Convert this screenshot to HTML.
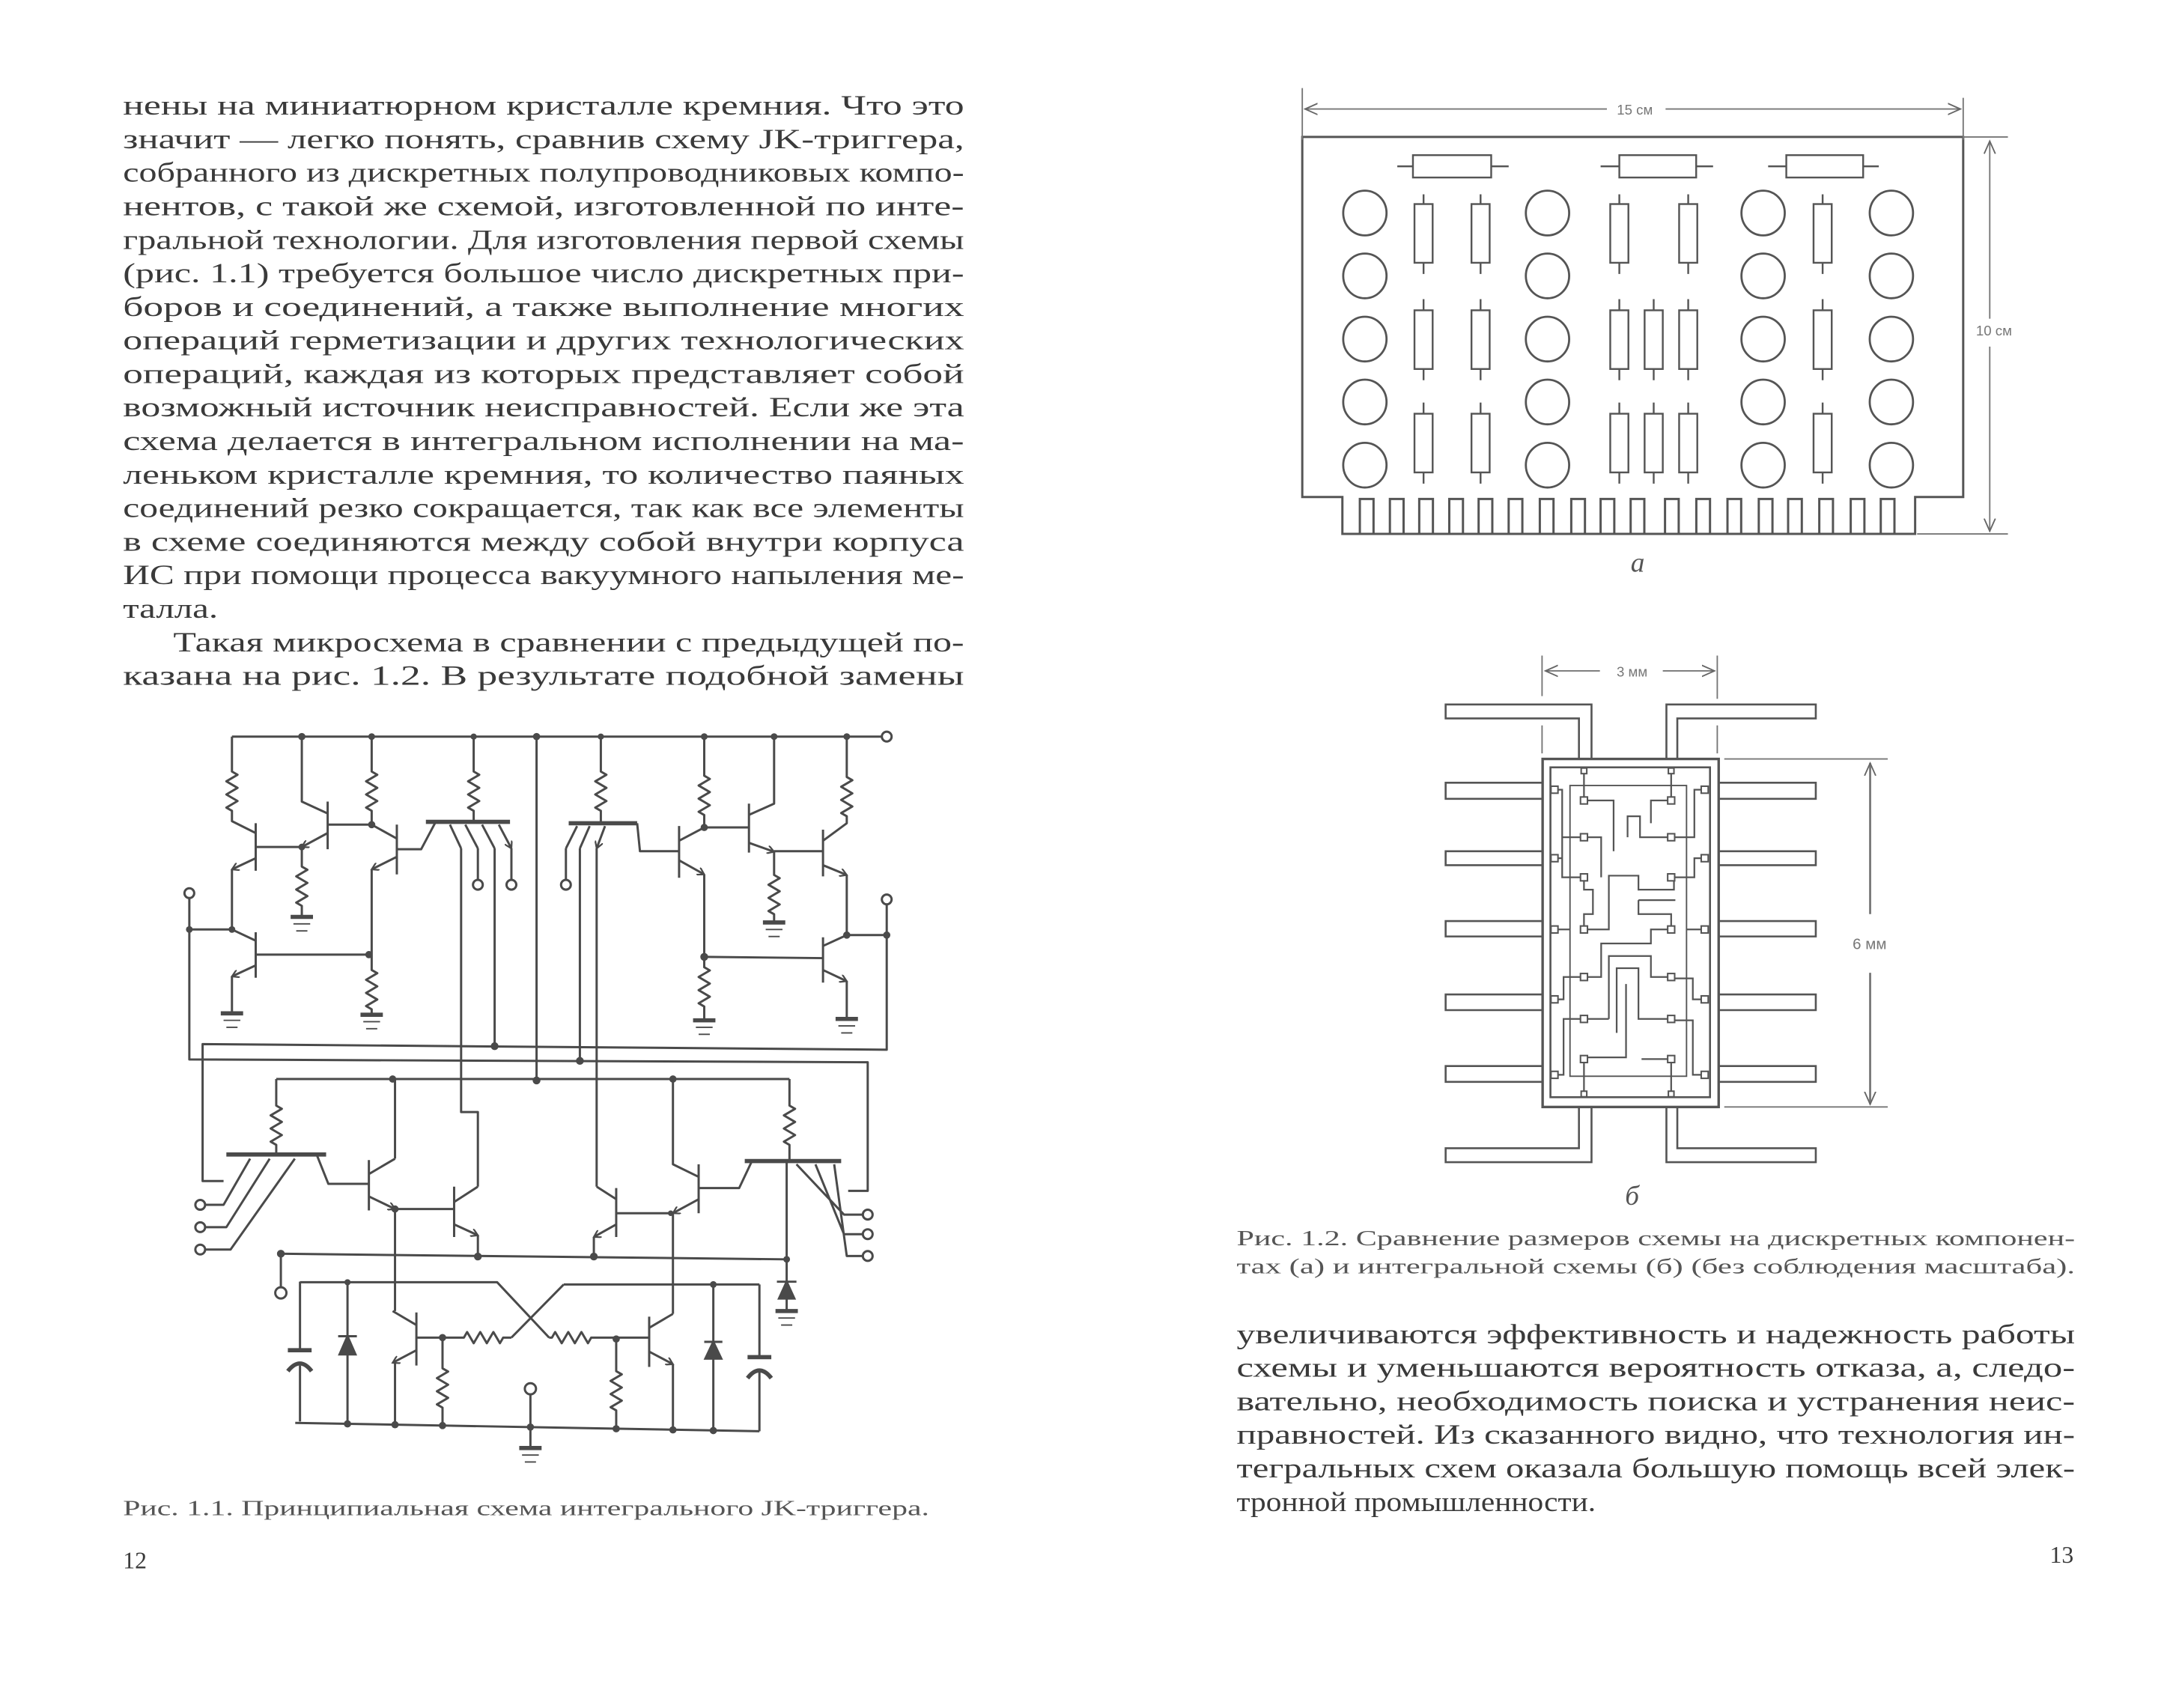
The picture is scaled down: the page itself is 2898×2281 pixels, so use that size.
<!DOCTYPE html>
<html><head><meta charset="utf-8"><style>
html,body{margin:0;padding:0;background:#fff;}
svg{display:block;}
.t{font-family:"Liberation Serif",serif;font-size:20px;fill:#3a3a3a;}
.c{font-family:"Liberation Serif",serif;font-size:15px;fill:#555;}
.s{font-family:"Liberation Sans",sans-serif;font-size:10px;fill:#777;}
</style></head><body>
<svg width="2898" height="2281" viewBox="0 0 1553 1222" preserveAspectRatio="none" xmlns="http://www.w3.org/2000/svg">
<defs>
<marker id="a" markerWidth="6" markerHeight="6" refX="5" refY="3" orient="auto" markerUnits="userSpaceOnUse"><path d="M0,0 L5,3 L0,6" fill="none" stroke="#4a4a4a" stroke-width="1.2"/></marker>
<marker id="d" markerWidth="10" markerHeight="10" refX="9" refY="5" orient="auto" markerUnits="userSpaceOnUse"><path d="M0,1 L9,5 L0,9" fill="none" stroke="#666" stroke-width="1"/></marker>
</defs>
<rect width="1553" height="1222" fill="#fff"/>

<!-- LEFT TEXT -->
<g class="t">
<text x="88" y="82" textLength="602" lengthAdjust="spacingAndGlyphs">нены на миниатюрном кристалле кремния. Что это</text>
<text x="88" y="106" textLength="602" lengthAdjust="spacingAndGlyphs">значит — легко понять, сравнив схему JK-триггера,</text>
<text x="88" y="130" textLength="602" lengthAdjust="spacingAndGlyphs">собранного из дискретных полупроводниковых компо-</text>
<text x="88" y="154" textLength="602" lengthAdjust="spacingAndGlyphs">нентов, с такой же схемой, изготовленной по инте-</text>
<text x="88" y="178" textLength="602" lengthAdjust="spacingAndGlyphs">гральной технологии. Для изготовления первой схемы</text>
<text x="88" y="202" textLength="602" lengthAdjust="spacingAndGlyphs">(рис. 1.1) требуется большое число дискретных при-</text>
<text x="88" y="226" textLength="602" lengthAdjust="spacingAndGlyphs">боров и соединений, а также выполнение многих</text>
<text x="88" y="250" textLength="602" lengthAdjust="spacingAndGlyphs">операций герметизации и других технологических</text>
<text x="88" y="274" textLength="602" lengthAdjust="spacingAndGlyphs">операций, каждая из которых представляет собой</text>
<text x="88" y="298" textLength="602" lengthAdjust="spacingAndGlyphs">возможный источник неисправностей. Если же эта</text>
<text x="88" y="322" textLength="602" lengthAdjust="spacingAndGlyphs">схема делается в интегральном исполнении на ма-</text>
<text x="88" y="346" textLength="602" lengthAdjust="spacingAndGlyphs">леньком кристалле кремния, то количество паяных</text>
<text x="88" y="370" textLength="602" lengthAdjust="spacingAndGlyphs">соединений резко сокращается, так как все элементы</text>
<text x="88" y="394" textLength="602" lengthAdjust="spacingAndGlyphs">в схеме соединяются между собой внутри корпуса</text>
<text x="88" y="418" textLength="602" lengthAdjust="spacingAndGlyphs">ИС при помощи процесса вакуумного напыления ме-</text>
<text x="88" y="442" textLength="68" lengthAdjust="spacingAndGlyphs">талла.</text>
<text x="124" y="466" textLength="566" lengthAdjust="spacingAndGlyphs">Такая микросхема в сравнении с предыдущей по-</text>
<text x="88" y="490" textLength="602" lengthAdjust="spacingAndGlyphs">казана на рис. 1.2. В результате подобной замены</text>
</g>
<text class="c" x="88" y="1084" textLength="577" lengthAdjust="spacingAndGlyphs">Рис. 1.1. Принципиальная схема интегрального JK-триггера.</text>
<text class="t" x="88" y="1122" style="font-size:17px">12</text>

<!-- RIGHT TEXT -->
<g class="t">
<text x="885" y="961" textLength="600" lengthAdjust="spacingAndGlyphs">увеличиваются эффективность и надежность работы</text>
<text x="885" y="985" textLength="600" lengthAdjust="spacingAndGlyphs">схемы и уменьшаются вероятность отказа, а, следо-</text>
<text x="885" y="1009" textLength="600" lengthAdjust="spacingAndGlyphs">вательно, необходимость поиска и устранения неис-</text>
<text x="885" y="1033" textLength="600" lengthAdjust="spacingAndGlyphs">правностей. Из сказанного видно, что технология ин-</text>
<text x="885" y="1057" textLength="600" lengthAdjust="spacingAndGlyphs">тегральных схем оказала большую помощь всей элек-</text>
<text x="885" y="1081" textLength="257" lengthAdjust="spacingAndGlyphs">тронной промышленности.</text>
</g>
<text class="c" x="885" y="891" textLength="600" lengthAdjust="spacingAndGlyphs">Рис. 1.2. Сравнение размеров схемы на дискретных компонен-</text>
<text class="c" x="885" y="911" textLength="600" lengthAdjust="spacingAndGlyphs">тах (а) и интегральной схемы (б) (без соблюдения масштаба).</text>
<text class="t" x="1467" y="1118" style="font-size:17px">13</text>
<text class="t" x="1167" y="409" style="font-style:italic;fill:#555">а</text>
<text class="t" x="1163" y="862" style="font-style:italic;fill:#555">б</text>

<!-- BOARD (a) -->
<g fill="none" stroke="#555" stroke-width="1.6">
<path d="M932 98 H1405 V355.6 H1370.6 V382 H960.7 V355.6 H932 Z"/>
<path d="M973.2 382V357h9.8V382M994.7 382V357h9.8V382M1015.7 382V357h9.8V382M1037.2 382V357h9.8V382M1058.2 382V357h9.8V382M1079.7 382V357h9.8V382M1102 382V357h9.8V382M1124.5 382V357h9.8V382M1145.5 382V357h9.8V382M1167 382V357h9.8V382M1191.6 382V357h9.8V382M1214 382V357h9.8V382M1236.3 382V357h9.8V382M1258.7 382V357h9.8V382M1279.7 382V357h9.8V382M1302 382V357h9.8V382M1324.5 382V357h9.8V382M1346 382V357h9.8V382"/>
<g stroke-width="1.5">
<ellipse cx="976.8" cy="152.4" rx="15.5" ry="16"/><ellipse cx="976.8" cy="197.4" rx="15.5" ry="16"/><ellipse cx="976.8" cy="242.6" rx="15.5" ry="16"/><ellipse cx="976.8" cy="287.6" rx="15.5" ry="16"/><ellipse cx="976.8" cy="332.8" rx="15.5" ry="16"/>
<ellipse cx="1107.5" cy="152.4" rx="15.5" ry="16"/><ellipse cx="1107.5" cy="197.4" rx="15.5" ry="16"/><ellipse cx="1107.5" cy="242.6" rx="15.5" ry="16"/><ellipse cx="1107.5" cy="287.6" rx="15.5" ry="16"/><ellipse cx="1107.5" cy="332.8" rx="15.5" ry="16"/>
<ellipse cx="1261.8" cy="152.4" rx="15.5" ry="16"/><ellipse cx="1261.8" cy="197.4" rx="15.5" ry="16"/><ellipse cx="1261.8" cy="242.6" rx="15.5" ry="16"/><ellipse cx="1261.8" cy="287.6" rx="15.5" ry="16"/><ellipse cx="1261.8" cy="332.8" rx="15.5" ry="16"/>
<ellipse cx="1353.6" cy="152.4" rx="15.5" ry="16"/><ellipse cx="1353.6" cy="197.4" rx="15.5" ry="16"/><ellipse cx="1353.6" cy="242.6" rx="15.5" ry="16"/><ellipse cx="1353.6" cy="287.6" rx="15.5" ry="16"/><ellipse cx="1353.6" cy="332.8" rx="15.5" ry="16"/>
</g>
<g stroke-width="1.3">
<rect x="1011.2" y="111" width="56" height="16"/><path d="M1000 119H1011.2M1067.2 119H1079.7"/>
<rect x="1158.9" y="111" width="55" height="16"/><path d="M1145.5 119H1158.9M1214 119H1226"/>
<rect x="1278.4" y="111" width="55" height="16"/><path d="M1265.4 119H1278.4M1333.4 119H1344.6"/>
<rect x="1012.3" y="146" width="13" height="42"/><path d="M1018.8 139V146M1018.8 188V196"/>
<rect x="1053.1" y="146" width="13" height="42"/><path d="M1059.6 139V146M1059.6 188V196"/>
<rect x="1152.4" y="146" width="13" height="42"/><path d="M1158.9 139V146M1158.9 188V196"/>
<rect x="1201.7" y="146" width="13" height="42"/><path d="M1208.2 139V146M1208.2 188V196"/>
<rect x="1297.9" y="146" width="13" height="42"/><path d="M1304.4 139V146M1304.4 188V196"/>
<rect x="1012.3" y="222" width="13" height="42"/><path d="M1018.8 214V222M1018.8 264V272"/>
<rect x="1053.1" y="222" width="13" height="42"/><path d="M1059.6 214V222M1059.6 264V272"/>
<rect x="1152.4" y="222" width="13" height="42"/><path d="M1158.9 214V222M1158.9 264V272"/>
<rect x="1177" y="222" width="13" height="42"/><path d="M1183.5 214V222M1183.5 264V272"/>
<rect x="1201.7" y="222" width="13" height="42"/><path d="M1208.2 214V222M1208.2 264V272"/>
<rect x="1297.9" y="222" width="13" height="42"/><path d="M1304.4 214V222M1304.4 264V272"/>
<rect x="1012.3" y="296" width="13" height="42"/><path d="M1018.8 288V296M1018.8 338V346"/>
<rect x="1053.1" y="296" width="13" height="42"/><path d="M1059.6 288V296M1059.6 338V346"/>
<rect x="1152.4" y="296" width="13" height="42"/><path d="M1158.9 288V296M1158.9 338V346"/>
<rect x="1177" y="296" width="13" height="42"/><path d="M1183.5 288V296M1183.5 338V346"/>
<rect x="1201.7" y="296" width="13" height="42"/><path d="M1208.2 288V296M1208.2 338V346"/>
<rect x="1297.9" y="296" width="13" height="42"/><path d="M1304.4 288V296M1304.4 338V346"/>
</g>
</g>
<g fill="none" stroke="#777" stroke-width="1">
<path d="M932 63V100M1405 70V100M1405 98H1437M1372 382H1437"/>
<path d="M1150 78H934" marker-end="url(#d)"/><path d="M1192 78H1403" marker-end="url(#d)"/>
<path d="M1424 228V101" marker-end="url(#d)"/><path d="M1424 248V380" marker-end="url(#d)"/>
</g>
<text class="s" x="1170" y="82" text-anchor="middle">15 см</text>
<text class="s" x="1427" y="240" text-anchor="middle">10 см</text>

<!-- CHIP (б) -->
<g fill="none" stroke="#555" stroke-width="1.4">
<rect x="1104" y="543" width="126" height="249" stroke-width="1.8"/>
<rect x="1109.6" y="549" width="114.2" height="236"/>
<rect x="1123.6" y="562" width="83.4" height="208" stroke-width="1"/>
<path d="M1104 560H1034.6V571.5H1104M1104 609H1034.6V619H1104M1104 659H1034.6V670H1104M1104 711.5H1034.6V722.7H1104M1104 762.7H1034.6V774H1104"/>
<path d="M1230 560H1299.5V571.5H1230M1230 609H1299.5V619H1230M1230 659H1299.5V670H1230M1230 711.5H1299.5V722.7H1230M1230 762.7H1299.5V774H1230"/>
<path d="M1139 543V504H1034.6V514H1130V543M1192.6 543V504H1299.5V514H1200.4V543"/>
<path d="M1139 792V831.5H1034.6V821.5H1130V792M1192.6 792V831.5H1299.5V821.5H1200.4V792"/>
<g stroke-width="1.2">
<path d="M1133.6 551.5V572.7M1196 551.5V572.7M1133.6 757.7V782.7M1196 757.7V782.7"/>
<path d="M1133.6 572.7H1154.8V609M1196 572.7H1181.5V589M1164.8 599V584H1173.7V599H1196"/>
<path d="M1112.5 565H1118V627.7H1133.6M1118 599H1145.9V627.7"/>
<path d="M1133.6 627.7V636.5H1140V654H1133.6V665"/>
<path d="M1133.6 665H1151.4V626.5H1172.6V636.5H1198V627.7"/>
<path d="M1172.6 644H1199M1172.6 644V654H1196V665"/>
<path d="M1196 665H1181.5V675H1145.9V699H1133.6"/>
<path d="M1151.4 729V684H1181.5V699H1196M1157 739V692.7H1172.6V729H1196"/>
<path d="M1163.7 704V756.5H1133.6M1174.8 757.7H1196M1133.6 729H1151.4M1133.6 729H1119V769H1112.5"/>
<path d="M1112.5 715H1119V699H1133.6M1112.5 614H1118M1112.5 665H1123.6"/>
<path d="M1220 565H1212.6V599H1196M1220 614H1212.6V627.7H1196M1220 715H1211.5V700H1196M1220 769H1211.5V730H1196M1220 665H1207"/>
</g>
<g fill="#fff" stroke-width="1.1">
<rect x="1131.6" y="549.5" width="4" height="4"/><rect x="1194" y="549.5" width="4" height="4"/>
<rect x="1131.1" y="570.2" width="5" height="5"/><rect x="1193.5" y="570.2" width="5" height="5"/>
<rect x="1131.1" y="596.5" width="5" height="5"/><rect x="1193.5" y="596.5" width="5" height="5"/>
<rect x="1131.1" y="625.2" width="5" height="5"/><rect x="1193.5" y="625.2" width="5" height="5"/>
<rect x="1131.1" y="662.5" width="5" height="5"/><rect x="1193.5" y="662.5" width="5" height="5"/>
<rect x="1131.1" y="696.5" width="5" height="5"/><rect x="1193.5" y="696.5" width="5" height="5"/>
<rect x="1131.1" y="726.5" width="5" height="5"/><rect x="1193.5" y="726.5" width="5" height="5"/>
<rect x="1131.1" y="755.2" width="5" height="5"/><rect x="1193.5" y="755.2" width="5" height="5"/>
<rect x="1131.6" y="780.7" width="4" height="4"/><rect x="1194" y="780.7" width="4" height="4"/>
<rect x="1110" y="562.5" width="5" height="5"/><rect x="1217.5" y="562.5" width="5" height="5"/>
<rect x="1110" y="611.5" width="5" height="5"/><rect x="1217.5" y="611.5" width="5" height="5"/>
<rect x="1110" y="662.5" width="5" height="5"/><rect x="1217.5" y="662.5" width="5" height="5"/>
<rect x="1110" y="712.5" width="5" height="5"/><rect x="1217.5" y="712.5" width="5" height="5"/>
<rect x="1110" y="766.5" width="5" height="5"/><rect x="1217.5" y="766.5" width="5" height="5"/>
</g>
</g>
<g fill="none" stroke="#777" stroke-width="1">
<path d="M1103.6 469V498M1229 469V500M1103.6 519V539M1229 519V539" />
<path d="M1145 480H1106" marker-end="url(#d)"/><path d="M1190 480H1227" marker-end="url(#d)"/>
<path d="M1234 543H1351M1234 792H1351"/>
<path d="M1338.4 654V546" marker-end="url(#d)" stroke-width="1.5"/><path d="M1338.4 696V790" marker-end="url(#d)" stroke-width="1.5"/>
</g>
<text class="s" x="1168" y="484" text-anchor="middle">3 мм</text>
<text class="s" x="1338" y="679" text-anchor="middle" style="font-size:11px">6 мм</text>

<!-- CIRCUIT 1.1 -->
<g fill="none" stroke="#4a4a4a" stroke-width="1.6" stroke-linejoin="round">
<path d="M166 527H631"/>
<path d="M166 527V552 l4 2.3 l-8 4.7 l8 4.7 l-8 4.7 l8 4.7 l-8 4.7 l4 2.3 V587.5 L183 596"/>
<path d="M183 589V623M183 606H216"/>
<path d="M183 614L166 622" marker-end="url(#a)"/>
<path d="M166 622V665"/>
<path d="M216 527V573.5L234.5 582M234.5 573.5V607.6"/>
<path d="M234.5 596L216 606" marker-end="url(#a)"/>
<path d="M216 606V620 l4 2.3 l-8 4.7 l8 4.7 l-8 4.7 l8 4.7 l-8 4.7 l4 2.3 V656"/>
<path d="M234.5 590H266"/>
<path d="M266 527V552 l4 2.3 l-8 4.7 l8 4.7 l-8 4.7 l8 4.7 l-8 4.7 l4 2.3 V590"/>
<path d="M266 590L284 600M284 590V625.6M284 607.6H301.4L311.6 588.4"/>
<path d="M284 613L266 622" marker-end="url(#a)"/>
<path d="M266 622V682V694 l4 2.3 l-8 4.7 l8 4.7 l-8 4.7 l8 4.7 l-8 4.7 l4 2.3 V726"/>
<path d="M304.8 588H365" stroke-width="3"/>
<path d="M339 527V552 l4 2.3 l-8 4.7 l8 4.7 l-8 4.7 l8 4.7 l-8 4.7 l4 2.3 V588"/>
<path d="M322 590L330 607M333 590L342 607M345 590L354 607M357 590L366 607" marker-end="url(#a)"/>
<path d="M330 607V795.6H342V849M342 607V629M354 607V748.5M366 607V629"/>
<circle cx="342" cy="633" r="3.5"/><circle cx="366" cy="633" r="3.5"/>
<path d="M384 527V773"/>
<path d="M407 589H456" stroke-width="3"/>
<path d="M430 527V552 l4 2.3 l-8 4.7 l8 4.7 l-8 4.7 l8 4.7 l-8 4.7 l4 2.3 V589"/>
<path d="M413 591L405 607M422 591L415 607M433 591L427 607" marker-end="url(#a)"/>
<path d="M405 607V629M415 607V761M427 607V849"/>
<circle cx="405" cy="633" r="3.5"/>
<path d="M456 589L458 609H486M486 591V628M486 601.5L504 592"/>
<path d="M486 615.5L504 625.6" marker-end="url(#a)"/>
<path d="M504 625.6V692 l4 2.3 l-8 4.7 l8 4.7 l-8 4.7 l8 4.7 l-8 4.7 l4 2.3 V730"/>
<path d="M504 527V555 l4 2.3 l-8 4.7 l8 4.7 l-8 4.7 l8 4.7 l-8 4.7 l4 2.3 V592"/>
<path d="M536 575V610M504 592H536M536 583L554 575V527"/>
<path d="M536 603L554 609.4" marker-end="url(#a)"/>
<path d="M554 609.4V626 l4 2.3 l-8 4.7 l8 4.7 l-8 4.7 l8 4.7 l-8 4.7 l4 2.3 V660"/>
<path d="M554 609H589M589 593.6V627M589 601.5L606 589V584 l-4 -2.3 l8 -4.7 l-8 -4.7 l8 -4.7 l-8 -4.7 l8 -4.7 l-4 -2.3 V527"/>
<path d="M589 619L606 626" marker-end="url(#a)"/>
<path d="M606 626V669"/>
<path d="M589 670.6V703M504 684.6L589 685.5M589 676.8L606 669"/>
<path d="M589 694L606 702" marker-end="url(#a)"/>
<path d="M606 702V729"/>
<circle cx="634.6" cy="643.5" r="3.5"/>
<path d="M634.6 647V751L145 747V845H160M606 669H634.6"/>
<circle cx="135.5" cy="639" r="3.5"/>
<path d="M135.5 642.5V758L621 760V852H607M135.5 665H166L183 673M183 667V699.5M183 683H264"/>
<path d="M183 690.7L166 698.6" marker-end="url(#a)"/>
<path d="M166 698.6V725"/>
<path d="M197.7 772H565"/>
<path d="M197.7 772V791 l4 2.3 l-8 4.7 l8 4.7 l-8 4.7 l8 4.7 l-8 4.7 l4 2.3 V826"/>
<path d="M162 826H233.4" stroke-width="3"/>
<path d="M147 862H160L179 829M147 878H162L193 829M147 894H165L211 829"/>
<circle cx="143.3" cy="862" r="3.5"/><circle cx="143.3" cy="878" r="3.5"/><circle cx="143.3" cy="894" r="3.5"/>
<path d="M226.6 826L235 847H264M264 830V866M264 840L282.7 829M282.7 772V829"/>
<path d="M264 856L282.7 865" marker-end="url(#a)"/>
<path d="M282.7 865V938M282.7 975V1018"/>
<path d="M282.7 865H325M325 849V885M325 860L342 849"/>
<path d="M325 876L342 883.8" marker-end="url(#a)"/>
<path d="M342 883.8V899"/>
<path d="M201 897L563 901M201 897V921"/>
<circle cx="201" cy="925" r="4"/>
<path d="M441 850V885M441 858L427 849"/>
<path d="M441 876L425 885" marker-end="url(#a)"/>
<path d="M425 885V899"/>
<path d="M441 868H480M500 833V868M500 842L481.6 833V772"/>
<path d="M500 858L481.6 868" marker-end="url(#a)"/>
<path d="M481.6 868V940M481.6 976V1024"/>
<path d="M500 850H529L538 831"/>
<path d="M533 830.7H602" stroke-width="3"/>
<path d="M565 772V791 l4 2.3 l-8 4.7 l8 4.7 l-8 4.7 l8 4.7 l-8 4.7 l4 2.3 V830"/>
<path d="M570 833L604 869H617M583.6 833L604 883H617M597 833L606 898.6H617"/>
<circle cx="621" cy="869" r="3.5"/><circle cx="621" cy="883" r="3.5"/><circle cx="621" cy="898.6" r="3.5"/>
<path d="M563 832V917M563 925V938"/>
<!-- flip-flop crossing -->
<path d="M214.7 917.4H355.8L393 957M403.4 919H543.5M403.4 919L366 957"/>
<path d="M248.7 917V1019M510.5 919V1022"/>
<path d="M214.7 917V966M214.7 977V1017"/>
<path d="M206 966H223" stroke-width="3"/>
<path d="M206 981Q214.7 970 223 981" stroke-width="3"/>
<path d="M543.5 919V971M543.5 981V1024"/>
<path d="M535 971H552" stroke-width="3"/>
<path d="M535 986Q543.5 975 552 986" stroke-width="3"/>
<path d="M298 939V977M298 948L281 938"/>
<path d="M298 966L281 975" marker-end="url(#a)"/>
<path d="M298 957H316.7H332 l2.3 -4 l4.7 8 l4.7 -8 l4.7 8 l4.7 -8 l4.7 8 l2.3 -4 H366"/>
<path d="M393 957H395 l2.3 -4 l4.7 8 l4.7 -8 l4.7 8 l4.7 -8 l4.7 8 l2.3 -4 H441H464.6"/>
<path d="M464.6 942V978M464.6 950L481.6 940"/>
<path d="M464.6 967L481.6 976" marker-end="url(#a)"/>
<path d="M316.7 957V979 l4 2.3 l-8 4.7 l8 4.7 l-8 4.7 l8 4.7 l-8 4.7 l4 2.3 V1020"/>
<path d="M441 958V981 l4 2.3 l-8 4.7 l8 4.7 l-8 4.7 l8 4.7 l-8 4.7 l4 2.3 V1023"/>
<circle cx="379.6" cy="993.6" r="4"/>
<path d="M379.6 998V1036"/>
<path d="M211.3 1018L543.5 1024"/>
</g>
<g fill="#4a4a4a" stroke="#4a4a4a" stroke-width="1.6">
<path d="M248.7 956L243 969H254.4Z"/><path d="M242 956H255.4" />
<path d="M510.5 960L504.8 972H516.2Z"/><path d="M504 960H517"/>
<path d="M563 917L557.5 929H568.5Z"/><path d="M556 917H570"/>
</g>
<g stroke="#4a4a4a" fill="none">
<path d="M208 656H224M258 726H274M158 725H174M496 730H512M546 660H562M598 729H614M555 938H571M371.6 1036H387.6" stroke-width="3"/>
<path d="M210 661H222M212 666H220M260 731H272M262 736H270M160 730H172M162 735H170M498 735H510M500 740H508M548 665H560M550 670H558M600 734H612M602 739H610M557 943H569M559 948H567M373.6 1041H385.6M375.6 1046H383.6" stroke-width="1"/>
</g>
<g fill="#4a4a4a">
<circle cx="216" cy="527" r="2.6"/><circle cx="266" cy="527" r="2.4"/><circle cx="339" cy="527" r="2.2"/><circle cx="384" cy="527" r="2.6"/><circle cx="430" cy="527" r="2.2"/><circle cx="504" cy="527" r="2.4"/><circle cx="554" cy="527" r="2.4"/><circle cx="606" cy="527" r="2.4"/>
<circle cx="216" cy="606" r="2.4"/><circle cx="266" cy="590" r="2.6"/><circle cx="504" cy="592" r="2.6"/><circle cx="166" cy="665" r="2.4"/><circle cx="135.5" cy="665" r="2.4"/><circle cx="264" cy="683" r="2.6"/><circle cx="504" cy="684.6" r="2.8"/><circle cx="606" cy="669" r="2.6"/><circle cx="634.6" cy="669" r="2.6"/>
<circle cx="354" cy="748.5" r="2.8"/><circle cx="415" cy="759" r="2.8"/><circle cx="281" cy="772" r="2.6"/><circle cx="384" cy="773" r="2.8"/><circle cx="481.6" cy="772" r="2.6"/>
<circle cx="282.7" cy="865" r="2.6"/><circle cx="201" cy="897" r="2.8"/><circle cx="342" cy="899" r="2.8"/><circle cx="425" cy="899" r="2.8"/><circle cx="563" cy="901" r="2.4"/><circle cx="480" cy="868" r="2"/>
<circle cx="248.7" cy="917.4" r="2.2"/><circle cx="510.5" cy="919" r="2.4"/><circle cx="316.7" cy="957" r="2.6"/><circle cx="441" cy="958" r="2.6"/>
<circle cx="248.7" cy="1018.7" r="2.6"/><circle cx="282.7" cy="1019.3" r="2.6"/><circle cx="316.7" cy="1019.9" r="2.6"/><circle cx="379.6" cy="1021" r="2.6"/><circle cx="441" cy="1022.2" r="2.6"/><circle cx="481.6" cy="1023" r="2.6"/><circle cx="510.5" cy="1023.5" r="2.6"/>
</g>
<circle cx="634.6" cy="527" r="3.5" fill="#fff" stroke="#4a4a4a" stroke-width="1.6"/>
</svg>
</body></html>
